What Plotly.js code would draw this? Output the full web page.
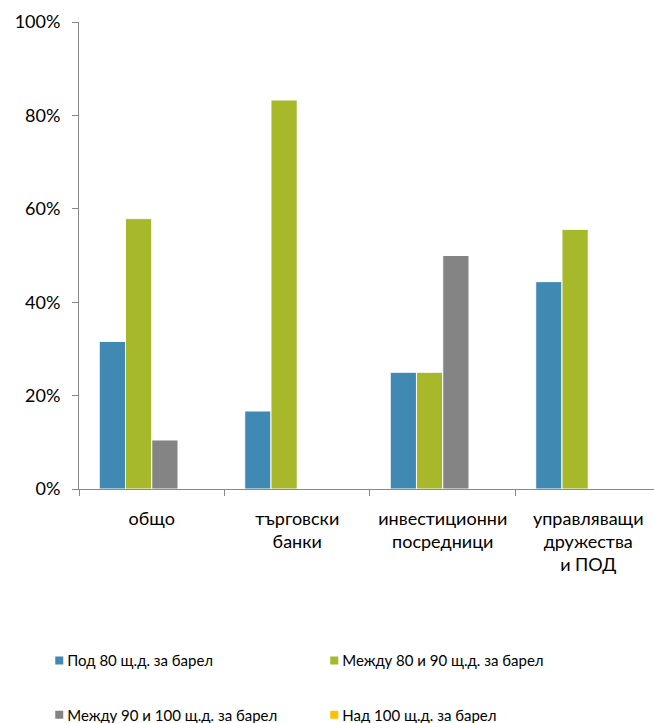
<!DOCTYPE html>
<html>
<head>
<meta charset="utf-8">
<script src="https://cdn.plot.ly/plotly-3.0.1.min.js"></script>
<style>
  html, body { margin: 0; padding: 0; background: #fff; }
  #chart { width: 654px; height: 723px; }
</style>
</head>
<body>
<div id="chart"></div>
<script>
// Categories (x axis)
const categories = [
  'общо',
  'търговски<br>банки',
  'инвестиционни<br>посредници',
  'управляващи<br>дружества<br>и ПОД'
];

// Series names
const seriesNames = [
  'Под 80 щ.д. за барел',
  'Между 80 и 90 щ.д. за барел',
  'Между 90 и 100 щ.д. за барел',
  'Над 100 щ.д. за барел'
];

// Shares per category
const under80     = [0.316, 0.167, 0.25, 0.444];
const from80to90  = [0.579, 0.833, 0.25, 0.556];
const from90to100 = [0.105, 0, 0.50, 0];
const over100     = [0, 0, 0, 0];

const seriesValues = [under80, from80to90, from90to100, over100];
const seriesColors = ['#3F89B3', '#A7B92B', '#848484', '#FFC000'];
// first two entries on the upper legend row, the rest on the lower
const legendRows = ['legend', 'legend', 'legend2', 'legend2'];

const FONT = 'Lato, "Open Sans", sans-serif';

const traces = seriesNames.map((name, i) => ({
  type: 'bar',
  name: name,
  x: categories,
  y: seriesValues[i],
  marker: { color: seriesColors[i], line: { color: '#ffffff', width: 1 } },
  legend: legendRows[i],
  hoverinfo: 'skip'
}));

const legendCommon = {
  orientation: 'h',
  xanchor: 'left',
  yanchor: 'middle',
  font: { family: FONT, size: 15, color: '#000' },
  entrywidth: 230,
  entrywidthmode: 'pixels',
  itemwidth: 30,
  bgcolor: 'rgba(0,0,0,0)'
};

const layout = {
  width: 654,
  height: 723,
  margin: { l: 79, r: 0, t: 22, b: 234, autoexpand: false },
  paper_bgcolor: '#ffffff',
  plot_bgcolor: '#ffffff',
  font: { family: FONT, size: 18, color: '#000' },
  barmode: 'group',
  bargap: 0.278,
  bargroupgap: 0,
  showlegend: true,
  legend: Object.assign({}, legendCommon, { x: -0.09, y: -0.368 }),
  legend2: Object.assign({}, legendCommon, { x: -0.09, y: -0.484 }),
  xaxis: {
    type: 'category',
    range: [-0.5, 3.452],
    showline: true,
    linecolor: '#898989',
    linewidth: 1,
    ticks: 'outside',
    tickson: 'boundaries',
    ticklen: 6,
    tickcolor: '#898989',
    showgrid: false,
    zeroline: false,
    fixedrange: true,
    automargin: false,
    ticklabelstandoff: 13,
    tickfont: { family: FONT, size: 18, color: '#000' }
  },
  yaxis: {
    range: [0, 1],
    tickvals: [0, 0.2, 0.4, 0.6, 0.8, 1],
    tickformat: '.0%',
    showline: true,
    linecolor: '#898989',
    linewidth: 1,
    ticks: 'outside',
    ticklen: 6,
    tickcolor: '#898989',
    showgrid: false,
    zeroline: false,
    fixedrange: true,
    automargin: false,
    ticklabelstandoff: 8,
    tickfont: { family: FONT, size: 18, color: '#000' }
  }
};

Plotly.newPlot('chart', traces, layout, { displayModeBar: false, staticPlot: true })
  .then(gd => {
    // small square legend swatches placed right before the entry text
    gd.querySelectorAll('.legendpoints path').forEach(p => {
      p.setAttribute('d', 'M4,4H-4V-4H4Z');
      p.setAttribute('transform', 'translate(32,0)');
      p.style.strokeWidth = '0px';
    });
  });
</script>
</body>
</html>
